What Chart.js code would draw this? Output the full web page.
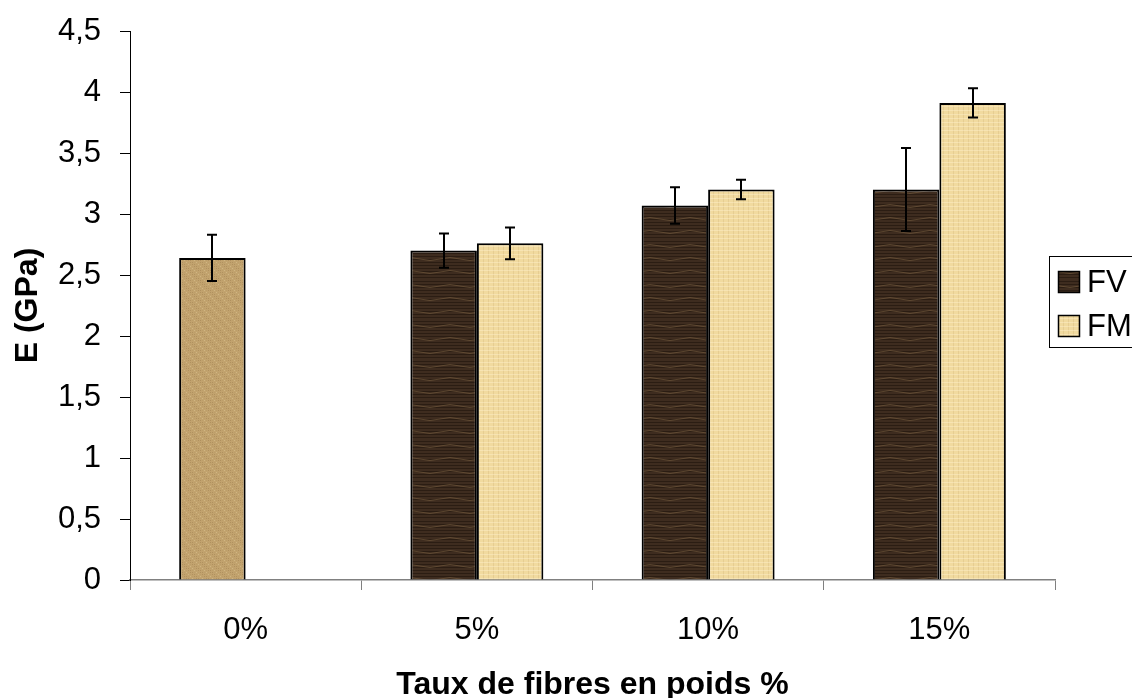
<!DOCTYPE html>
<html>
<head>
<meta charset="utf-8">
<script src="https://cdn.jsdelivr.net/npm/chart.js@4.4.1/dist/chart.umd.min.js"></script>
<style>
  html, body { margin: 0; padding: 0; background: #fff; overflow: hidden; }
  #wrap { position: relative; width: 1132px; height: 698px; }
</style>
</head>
<body>
<div id="wrap"><canvas id="chart" width="1132" height="698"></canvas></div>
<script>
// Data
var categories = ['0%', '5%', '10%', '15%'];
var fvValues = [2.64, 2.70, 3.07, 3.20];
var fvErrLow = [2.45, 2.56, 2.92, 2.86];
var fvErrHigh = [2.83, 2.84, 3.22, 3.54];
var fmValues = [null, 2.76, 3.20, 3.91];
var fmErrLow = [null, 2.63, 3.12, 3.79];
var fmErrHigh = [null, 2.89, 3.28, 4.03];
var yTicks = [0, 0.5, 1, 1.5, 2, 2.5, 3, 3.5, 4, 4.5];

var FONT = '"Liberation Sans", Arial, sans-serif';

// Textures
function makePattern(base, draw) {
  var c = document.createElement('canvas');
  c.width = 40; c.height = 40;
  var g = c.getContext('2d');
  g.fillStyle = base;
  g.fillRect(0, 0, 40, 40);
  draw(g);
  return g.createPattern(c, 'repeat');
}

var woodDark = makePattern('#3e2c1f', function (g) {
  g.lineWidth = 1;
  g.strokeStyle = 'rgba(28,18,10,0.55)';
  for (var y2 = 1; y2 < 40; y2 += 3) {
    g.beginPath();
    g.moveTo(0, y2 + 0.5);
    g.lineTo(40, y2 + 0.5);
    g.stroke();
  }
  g.strokeStyle = 'rgba(120,95,65,0.6)';
  for (var y = 6; y < 40; y += 13) {
    g.beginPath();
    g.moveTo(0, y);
    g.quadraticCurveTo(10, y - 3, 20, y);
    g.quadraticCurveTo(30, y + 3, 40, y);
    g.stroke();
  }
});

var burlap = makePattern('#c2a36e', function (g) {
  for (var x = 0; x < 40; x += 2) {
    for (var y = 0; y < 40; y += 2) {
      var k = ((x * 7 + y * 13) % 5);
      g.fillStyle = k < 2 ? 'rgba(160,128,80,0.5)' : (k === 3 ? 'rgba(220,198,150,0.55)' : 'rgba(180,150,100,0.35)');
      g.fillRect(x, y, 1, 1);
    }
  }
});

var lightWood = makePattern('#f1da9f', function (g) {
  g.lineWidth = 1;
  g.strokeStyle = 'rgba(205,175,115,0.3)';
  for (var x = 3; x < 40; x += 5) {
    g.beginPath(); g.moveTo(x + 0.5, 0); g.lineTo(x + 0.5, 40); g.stroke();
  }
  g.strokeStyle = 'rgba(255,240,205,0.45)';
  for (var y = 2; y < 40; y += 4) {
    g.beginPath(); g.moveTo(0, y + 0.5); g.lineTo(40, y + 0.5); g.stroke();
  }
});

// Error bars plugin
var errorBars = {
  id: 'errorBars',
  afterDatasetsDraw: function (chart) {
    var ctx = chart.ctx;
    var y = chart.scales.y;
    var sets = [[fvErrLow, fvErrHigh], [fmErrLow, fmErrHigh]];
    ctx.save();
    ctx.strokeStyle = '#000';
    ctx.lineWidth = 2;
    sets.forEach(function (s, di) {
      var meta = chart.getDatasetMeta(di);
      meta.data.forEach(function (bar, i) {
        if (s[0][i] == null) return;
        var x = Math.round(bar.x);
        var y1 = y.getPixelForValue(s[0][i]);
        var y2 = y.getPixelForValue(s[1][i]);
        ctx.beginPath();
        ctx.moveTo(x, y1); ctx.lineTo(x, y2);
        ctx.moveTo(x - 5, y1); ctx.lineTo(x + 5, y1);
        ctx.moveTo(x - 5, y2); ctx.lineTo(x + 5, y2);
        ctx.stroke();
      });
    });
    ctx.restore();
  }
};

// Legend plugin
var boxLegend = {
  id: 'boxLegend',
  afterDraw: function (chart) {
    var ctx = chart.ctx;
    ctx.save();
    ctx.strokeStyle = '#000';
    ctx.lineWidth = 1;
    ctx.strokeRect(1049.5, 256.5, 100, 91);
    var items = [['FV', woodDark], ['FM', lightWood]];
    ctx.font = '31px ' + FONT;
    ctx.textBaseline = 'middle';
    items.forEach(function (it, i) {
      var cy = 282 + i * 44;
      ctx.fillStyle = it[1];
      ctx.fillRect(1058, cy - 11, 22, 22);
      ctx.lineWidth = 1.5;
      ctx.strokeRect(1058.5, cy - 10.5, 21, 21);
      ctx.fillStyle = '#000';
      ctx.fillText(it[0], 1087, cy + 1);
    });
    ctx.restore();
  }
};

var ctx = document.getElementById('chart').getContext('2d');
var chart = new Chart(ctx, {
  type: 'bar',
  data: {
    labels: categories,
    datasets: [{
      label: 'FV',
      data: fvValues,
      backgroundColor: [burlap, woodDark, woodDark, woodDark],
      borderColor: '#000',
      borderWidth: 2,
      categoryPercentage: 0.575,
      barPercentage: 1
    }, {
      label: 'FM',
      data: fmValues,
      backgroundColor: lightWood,
      borderColor: '#000',
      borderWidth: 2,
      categoryPercentage: 0.575,
      barPercentage: 1
    }]
  },
  options: {
    responsive: false,
    animation: false,
    layout: { padding: { top: 31, right: 77, left: 0, bottom: 0 } },
    scales: {
      x: {
        grid: {
          offset: true,
          drawOnChartArea: false,
          color: '#808080',
          tickLength: 10
        },
        border: { color: '#808080', width: 1.5 },
        ticks: {
          color: '#000',
          padding: 22,
          font: { family: FONT, size: 31 }
        },
        title: {
          display: true,
          text: 'Taux de fibres en poids %',
          color: '#000',
          padding: { top: 0, bottom: -6 },
          font: { family: FONT, size: 32, weight: 'bold' }
        },
        afterFit: function (s) { s.height = 118; s.paddingLeft = 0; s.paddingRight = 0; }
      },
      y: {
        min: 0,
        max: 4.5,
        afterBuildTicks: function (s) { s.ticks = yTicks.map(function (v) { return { value: v }; }); },
        grid: { drawOnChartArea: false, color: '#000', tickLength: 10 },
        border: { color: '#000', width: 1 },
        ticks: {
          color: '#000',
          padding: 19,
          font: { family: FONT, size: 31 },
          callback: function (v) { return String(v).replace('.', ','); }
        },
        title: {
          display: true,
          text: 'E (GPa)',
          color: '#000',
          padding: { top: 9, bottom: 0 },
          font: { family: FONT, size: 32, weight: 'bold' }
        },
        afterFit: function (s) { s.width = 130; s.paddingTop = 0; s.paddingBottom = 0; }
      }
    },
    plugins: {
      legend: { display: false },
      tooltip: { enabled: false }
    }
  },
  plugins: [errorBars, boxLegend]
});
</script>
</body>
</html>
